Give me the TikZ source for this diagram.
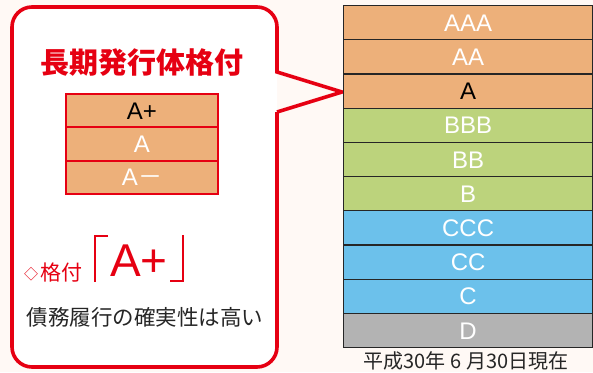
\documentclass[tikz,border=0pt]{standalone}
\usepackage{fontspec}
\usetikzlibrary{calc}
\setmainfont{Liberation Sans}
\newfontfamily\jp{Noto Sans CJK JP}
\definecolor{bg}{HTML}{FFF9F5}
\definecolor{jred}{HTML}{E60012}
\definecolor{org}{HTML}{EDB07A}
\definecolor{grn}{HTML}{BCD37C}
\definecolor{blu}{HTML}{6CC1EB}
\definecolor{gry}{HTML}{B3B3B3}
\tikzset{
  rowbox/.style={draw=black!85, line width=1.2pt, minimum width=249pt, minimum height=34.2pt,
    inner sep=0pt, anchor=north west, text=white, text height=17.2pt, text depth=0pt,
    font=\fontsize{24}{24}\selectfont},
  smallrow/.style={draw=jred, line width=2pt, fill=org, minimum width=152pt, minimum height=33.3pt,
    inner sep=0pt, anchor=north west, text=white, text height=17.2pt, text depth=0pt,
    font=\fontsize{24}{24}\selectfont},
  bubble/.style={draw=jred, line width=3.6pt, line join=miter},
  bracket/.style={draw=jred, line width=2.4pt}
}
\begin{document}
\begin{tikzpicture}[x=1pt,y=-1pt]
\useasboundingbox (0,0) rectangle (593,372);
\fill[bg] (0,0) rectangle (593,372);

% speech bubble
\fill[white, rounded corners=20pt] (277,7) rectangle (12,367);
\draw[bubble] (277,112) -- (342,92) -- (277,72) [rounded corners=20pt] -- (277,7) -- (12,7) -- (12,367) -- (277,367) [sharp corners] -- (277,112);

% title
\node[text=jred, font=\jp\bfseries\fontsize{29}{29}\selectfont, inner sep=0pt] (title) at (142,63) {長期発行体格付};

% small table
\node[smallrow, text=black] (s1) at (65,93) {A+};
\node[smallrow] (s2) at (65,126.3) {A};
\node[smallrow] (s3) at (65,159.6) {A{\jp －}};

% rating line
\node[text=jred, font=\jp\fontsize{14}{14}\selectfont, inner sep=0pt, anchor=base west] (dia) at (24,279) {◇};
\node[text=jred, font=\jp\fontsize{21}{21}\selectfont, inner sep=0pt, anchor=base west] (kaku) at (40,280) {格付};
\coordinate (bl) at (95,236);
\draw[bracket] ($(bl)+(13,0)$) -- (bl) -- ++(0,46);
\node[text=jred, font=\fontsize{46}{46}\selectfont, inner sep=0pt, anchor=base west] (big) at (110,276.5) {A+};
\coordinate (br) at (183,281);
\draw[bracket] ($(br)+(-13,0)$) -- (br) -- ++(0,-46);

\node[text=black!85, font=\jp\fontsize{21.5}{21.5}\selectfont, inner sep=0pt] (desc) at (145,317) {債務履行の確実性は高い};

% right table
\node[rowbox, fill=org] (r1) at (343,5) {AAA};
\node[rowbox, fill=org] (r2) at (343,39.2) {AA};
\node[rowbox, fill=org, text=black] (r3) at (343,73.4) {A};
\node[rowbox, fill=grn] (r4) at (343,107.6) {BBB};
\node[rowbox, fill=grn] (r5) at (343,141.8) {BB};
\node[rowbox, fill=grn] (r6) at (343,176) {B};
\node[rowbox, fill=blu] (r7) at (343,210.2) {CCC};
\node[rowbox, fill=blu] (r8) at (343,244.4) {CC};
\node[rowbox, fill=blu] (r9) at (343,278.6) {C};
\node[rowbox, fill=gry] (r10) at (343,312.8) {D};

\node[text=black!85, font=\jp\fontsize{20}{20}\selectfont, inner sep=0pt] (date) at (466,361) {平成30年 6 月30日現在};
\end{tikzpicture}
\end{document}
